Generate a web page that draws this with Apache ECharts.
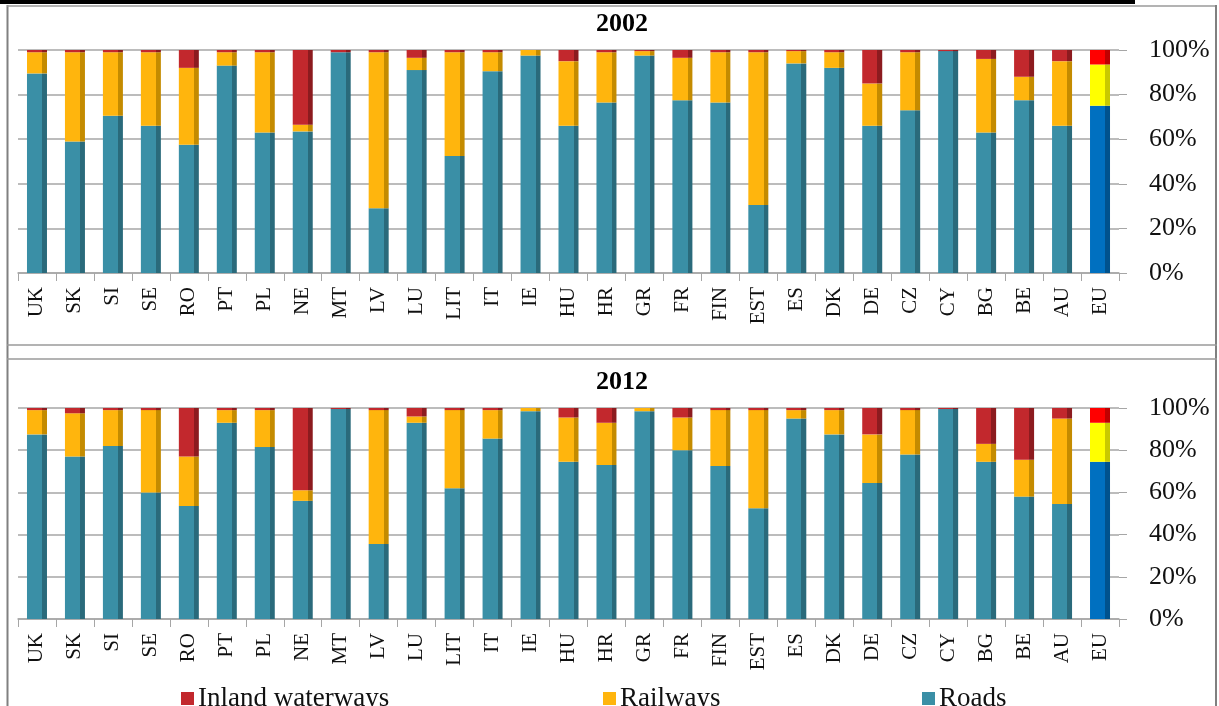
<!DOCTYPE html>
<html>
<head>
<meta charset="utf-8">
<script src="https://cdn.jsdelivr.net/npm/echarts@6/dist/echarts.min.js"></script>
<style>
html,body{margin:0;padding:0;background:#fff;}
#c{width:1219px;height:706px;}
</style>
</head>
<body>
<div id="c"></div>
<script>
var categories = ['UK','SK','SI','SE','RO','PT','PL','NE','MT','LV','LU','LIT','IT','IE','HU','HR','GR','FR','FIN','EST','ES','DK','DE','CZ','CY','BG','BE','AU','EU'];
var yTicks = [0, 20, 40, 60, 80, 100];
var titles = ['2002', '2012'];
var seriesNames = ['Inland waterways', 'Railways', 'Roads'];

var roads2002 = [89.5,59,70.5,66,57.5,93,63,63.5,99,29,91,52.5,90.5,97.5,66,76.5,97.5,77.5,76.5,30.5,94,92,66,73,99.5,63,77.5,66,75];
var rail2002  = [9.5,40,28.5,33,34.5,6,36,3,0,70,5.5,46.5,8.5,2.5,29,22.5,2,19,22.5,68.5,5.5,7,19,26,0,33,10.5,29,18.5];
var water2002 = [1,1,1,1,8,1,1,33.5,1,1,3.5,1,1,0,5,1,0.5,3.5,1,1,0.5,1,15,1,0.5,4,12,5,6.5];

var roads2012 = [87.5,77,82,60,53.5,93,81.5,56,99.5,35.5,93,62,85.5,98.5,74.5,73,98.5,80,72.5,52.5,95,87.5,64.5,78,99.5,74.5,58,54.5,74.5];
var rail2012  = [11.5,20.5,17,39,23.5,6,17.5,5,0,63.5,3,37,13.5,1.5,21,20,1.5,15.5,26.5,46.5,4,11.5,23,21,0,8.5,17.5,40.5,18.5];
var water2012 = [1,2.5,1,1,23,1,1,39,0.5,1,4,1,1,0,4.5,7,0,4.5,1,1,1,1,12.5,1,0.5,17,24.5,5,7];

var FONT = '"Liberation Serif","Times New Roman",serif';
var colors = {
  'Roads': ['#3A8FA6', '#2A6A7B'],
  'Railways': ['#FFB50D', '#C48B00'],
  'Inland waterways': ['#C2282D', '#8C1B1F']
};
var euColors = {
  'Roads': ['#0070C0', '#00528D'],
  'Railways': ['#FFFF00', '#C9C900'],
  'Inland waterways': ['#FF0000', '#C00000']
};
function grad(c){
  return {type:'linear', x:0, y:0, x2:1, y2:0, colorStops:[
    {offset:0, color:c[0]}, {offset:0.76, color:c[0]}, {offset:0.76, color:c[1]}, {offset:1, color:c[1]}
  ]};
}
function makeData(arr, name){
  return arr.map(function(v, i){
    if (categories[i] === 'EU') return {value: v, itemStyle: {color: grad(euColors[name])}};
    return v;
  });
}

var grids = [
  {left: 18, right: 100, top: 50, height: 223},
  {left: 18, right: 100, top: 408, height: 211}
];
var xAxes = [], yAxes = [], series = [];
var dataSets = [
  {Roads: roads2002, Railways: rail2002, 'Inland waterways': water2002},
  {Roads: roads2012, Railways: rail2012, 'Inland waterways': water2012}
];
for (var g = 0; g < 2; g++) {
  xAxes.push({
    type: 'category', gridIndex: g, data: categories,
    axisLine: {show: true, lineStyle: {color: '#A6A6A6', width: 1.5}},
    axisTick: {show: true, alignWithLabel: false, length: 8, lineStyle: {color: '#A6A6A6'}},
    axisLabel: {rotate: 90, margin: 14, color: '#111', fontFamily: FONT, fontSize: 21, interval: 0}
  });
  yAxes.push({
    type: 'value', gridIndex: g, position: 'right', min: 0, max: 100, interval: 20,
    axisLine: {show: false},
    axisTick: {show: true, length: 8, lineStyle: {color: '#A6A6A6'}},
    splitLine: {show: true, lineStyle: {color: '#A6A6A6', width: 1.5}},
    axisLabel: {formatter: '{value}%', margin: 30, color: '#111', fontFamily: FONT, fontSize: 26, align: 'left', padding: [0,0,8,0]}
  });
  ['Roads', 'Railways', 'Inland waterways'].forEach(function(name){
    series.push({
      name: name, type: 'bar', stack: 's' + g, xAxisIndex: g, yAxisIndex: g,
      barWidth: 20,
      itemStyle: {color: grad(colors[name])},
      data: makeData(dataSets[g][name], name),
      animation: false
    });
  });
}

var legendLefts = [176, 598, 917];
var legends = seriesNames.map(function(n, i){
  return {
    data: [{name: n, itemStyle: {color: colors[n][0]}}],
    left: legendLefts[i], top: 680,
    icon: 'rect', itemWidth: 13, itemHeight: 13, itemGap: 4,
    textStyle: {fontFamily: FONT, fontSize: 27, color: '#111', padding: [0,0,0,-1]},
    selectedMode: false
  };
});

var chart = echarts.init(document.getElementById('c'), null, {renderer: 'canvas'});
chart.setOption({
  backgroundColor: '#fff',
  animation: false,
  grid: grids,
  xAxis: xAxes,
  yAxis: yAxes,
  legend: legends,
  series: series,
  graphic: [
    {type: 'rect', shape: {x: 0, y: 0, width: 1135, height: 4}, style: {fill: '#000'}},
    {type: 'line', shape: {x1: 7.5, y1: 5, x2: 7.5, y2: 706}, style: {stroke: '#808080', lineWidth: 2}},
    {type: 'line', shape: {x1: 7, y1: 6, x2: 1217, y2: 6}, style: {stroke: '#9A9A9A', lineWidth: 1.5}},
    {type: 'line', shape: {x1: 1216, y1: 5, x2: 1216, y2: 706}, style: {stroke: '#808080', lineWidth: 2}},
    {type: 'line', shape: {x1: 7, y1: 345, x2: 1217, y2: 345}, style: {stroke: '#9A9A9A', lineWidth: 1.5}},
    {type: 'line', shape: {x1: 7, y1: 359, x2: 1217, y2: 359}, style: {stroke: '#9A9A9A', lineWidth: 1.5}},
    {type: 'text', style: {text: titles[0], x: 622, y: 24, align: 'center', verticalAlign: 'middle', font: 'bold 26px ' + FONT, fill: '#000'}},
    {type: 'text', style: {text: titles[1], x: 622, y: 382, align: 'center', verticalAlign: 'middle', font: 'bold 26px ' + FONT, fill: '#000'}}
  ]
});
</script>
</body>
</html>
